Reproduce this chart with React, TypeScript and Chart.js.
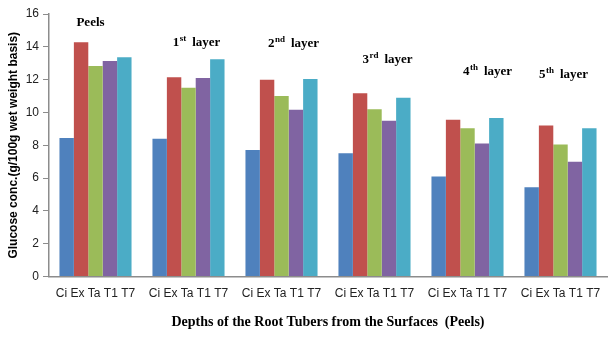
import React, { useEffect, useRef } from "react";
import { Chart, registerables } from "chart.js";

Chart.register(...registerables);

const categories = ["Ci Ex Ta T1 T7", "Ci Ex Ta T1 T7", "Ci Ex Ta T1 T7", "Ci Ex Ta T1 T7", "Ci Ex Ta T1 T7", "Ci Ex Ta T1 T7"];
const groupNames = ["Peels", "1", "2", "3", "4", "5"];
const groupSup = ["", "st", "nd", "rd", "th", "th"];
const groupSuffix = ["", "layer", "layer", "layer", "layer", "layer"];

const seriesNames = ["Ci", "Ex", "Ta", "T1", "T7"];
const ciValues = [8.44, 8.4, 7.71, 7.51, 6.09, 5.44];
const exValues = [14.28, 12.15, 12.0, 11.17, 9.56, 9.2];
const taValues = [12.83, 11.51, 11.0, 10.19, 9.04, 8.04];
const t1Values = [13.14, 12.1, 10.17, 9.5, 8.1, 7.0];
const t7Values = [13.36, 13.24, 12.04, 10.9, 9.66, 9.04];

const yTitle = "Glucose conc.(g/100g wet weight basis)";
const xTitle = "Depths of the Root Tubers from the Surfaces  (Peels)";

const colors = ["#4F81BD", "#C0504D", "#9BBB59", "#8064A2", "#4BACC6"];

// label placement: [x offset from group center in px, y in value units]
const labelPlacement: [number, number][] = [
  [-5, 15.5],
  [8, 14.24],
  [12, 14.18],
  [13, 13.2],
  [20, 12.47],
  [3, 12.29],
];

const groupLabelPlugin = {
  id: "groupLabels",
  afterDatasetsDraw(chart: any) {
    const { ctx, scales } = chart;
    const xs = scales.x;
    const ys = scales.y;
    ctx.save();
    ctx.fillStyle = "#000";
    ctx.textBaseline = "middle";
    const mainFont = "bold 13px 'Liberation Serif', serif";
    const supFont = "bold 9px 'Liberation Serif', serif";
    groupNames.forEach((name, i) => {
      const cx = xs.getPixelForValue(i) + labelPlacement[i][0];
      const cy = ys.getPixelForValue(labelPlacement[i][1]);
      ctx.font = mainFont;
      const w1 = ctx.measureText(name).width;
      ctx.font = supFont;
      const w2 = groupSup[i] ? ctx.measureText(groupSup[i]).width : 0;
      ctx.font = mainFont;
      const suffix = groupSuffix[i] ? "  " + groupSuffix[i] : "";
      const w3 = suffix ? ctx.measureText(suffix).width : 0;
      const total = w1 + w2 + w3;
      let x = cx - total / 2;
      ctx.textAlign = "left";
      ctx.font = mainFont;
      ctx.fillText(name, x, cy);
      x += w1;
      if (groupSup[i]) {
        ctx.font = supFont;
        ctx.fillText(groupSup[i], x + 0.5, cy - 4);
        x += w2;
      }
      if (suffix) {
        ctx.font = mainFont;
        ctx.fillText(suffix, x, cy);
      }
    });
    ctx.restore();
  },
};

export default function App() {
  const ref = useRef<HTMLCanvasElement>(null);
  useEffect(() => {
    if (!ref.current) return;
    const allValues = [ciValues, exValues, taValues, t1Values, t7Values];
    const chart = new Chart(ref.current, {
      type: "bar",
      data: {
        labels: categories,
        datasets: seriesNames.map((n, i) => ({
          label: n,
          data: allValues[i],
          backgroundColor: colors[i],
          borderWidth: 0,
          barPercentage: 1,
          categoryPercentage: 0.775,
        })),
      },
      options: {
        responsive: false,
        animation: false,
        layout: { padding: { top: 14, right: 7, left: 0, bottom: 0 } },
        plugins: { legend: { display: false }, tooltip: { enabled: false } },
        scales: {
          x: {
            grid: { display: false, drawTicks: false },
            border: { display: true, color: "#8C8C8C", width: 1.5 },
            ticks: {
              color: "#222",
              font: { family: "'Liberation Sans', sans-serif", size: 12 },
              padding: 10,
              maxRotation: 0,
              autoSkip: false,
            },
            title: {
              display: true,
              text: xTitle,
              color: "#000",
              font: { family: "'Liberation Serif', serif", size: 14, weight: "bold" },
              padding: { top: 4, bottom: 7 },
            },
            afterFit(scale: any) {
              scale.height = 61.5;
            },
          },
          y: {
            min: 0,
            max: 16,
            ticks: {
              stepSize: 2,
              color: "#222",
              font: { family: "'Liberation Sans', sans-serif", size: 12 },
              padding: 4,
            },
            grid: { display: true, drawOnChartArea: false, drawTicks: true, tickLength: 6, color: "#8C8C8C" },
            border: { display: true, color: "#8C8C8C", width: 1.5 },
            title: {
              display: true,
              text: yTitle,
              color: "#000",
              font: { family: "'Liberation Sans', sans-serif", size: 12, weight: "bold" },
              padding: { top: 6, bottom: 0 },
            },
            afterFit(scale: any) {
              scale.width = 49;
            },
          },
        },
      },
      plugins: [groupLabelPlugin],
    });
    return () => chart.destroy();
  }, []);
  return (
    <canvas
      ref={ref}
      width={614}
      height={338}
      style={{ position: "fixed", left: 0, top: 0, width: 614, height: 338, background: "#fff" }}
    />
  );
}
